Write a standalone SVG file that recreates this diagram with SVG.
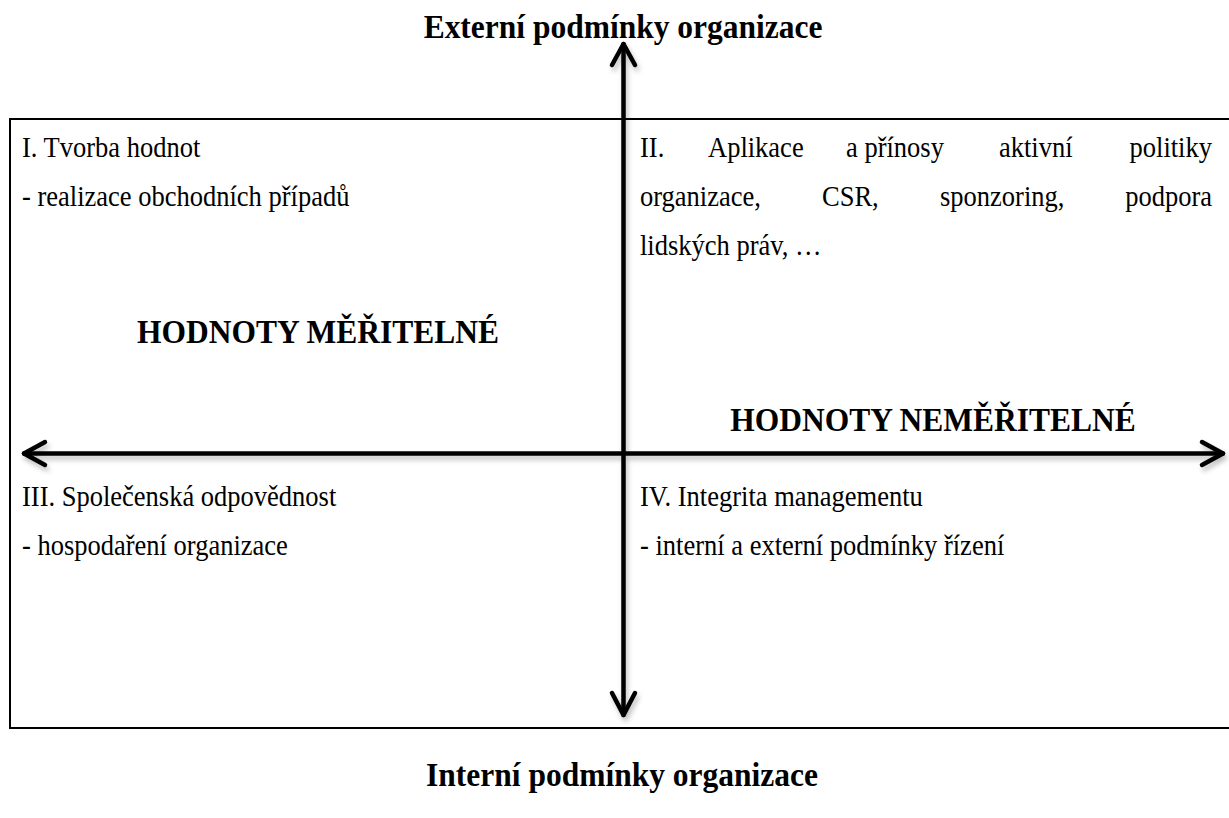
<svg xmlns="http://www.w3.org/2000/svg" width="1229" height="818" viewBox="0 0 1229 818">
<style>
text{font-family:"Liberation Serif","Times New Roman",serif;fill:#000}
.t{font-size:28.5px;font-weight:normal}
.b{font-size:33.5px;font-weight:bold;text-anchor:middle}
.ax{fill:none;stroke:#000;stroke-width:4.5;stroke-linecap:round;stroke-linejoin:round}
</style>
<defs>
<filter id="sh" x="-10%" y="-10%" width="120%" height="130%">
<feDropShadow dx="2" dy="4" stdDeviation="2.5" flood-color="#000" flood-opacity="0.25"/>
</filter>
</defs>
<rect width="1229" height="818" fill="#fff"/>
<g id="frame">
<path d="M1230,119 H10 V728 H1230" fill="none" stroke="#000" stroke-width="2"/>
</g>
<g id="connectors" filter="url(#sh)">
<path class="ax" d="M623.5,44 V715"/>
<path class="ax" d="M612,65 L623.5,44 L635,65"/>
<path class="ax" d="M612,693 L623.5,715 L635,693"/>
<path class="ax" d="M24,453.5 H1223"/>
<path class="ax" d="M45,442 L24,453.5 L45,465"/>
<path class="ax" d="M1202,442 L1223,453.5 L1202,465"/>
</g>
<g id="label-top"><text class="b" transform="matrix(0.94 0 0 1 623 38)">Externí podmínky organizace</text></g>
<g id="label-bottom"><text class="b" transform="matrix(0.94 0 0 1 622 786)">Interní podmínky organizace</text></g>
<g id="q1">
<text class="t" transform="matrix(0.93 0 0 1 22 156.5)">I. Tvorba hodnot</text>
<text class="t" transform="matrix(0.93 0 0 1 22 205.5)">- realizace obchodních případů</text>
<text class="b" transform="matrix(0.94 0 0 1 318 343)">HODNOTY MĚŘITELNÉ</text>
</g>
<g id="q2">
<text class="t" transform="matrix(0.93 0 0 1 0 156.5)"><tspan x="688.17">II.</tspan><tspan x="761.29">Aplikace</tspan><tspan x="909.68">a přínosy</tspan><tspan x="1074.19">aktivní</tspan><tspan x="1303.23" text-anchor="end">politiky</tspan></text>
<text class="t" transform="matrix(0.93 0 0 1 0 205.5)"><tspan x="688.17">organizace,</tspan><tspan x="883.87">CSR,</tspan><tspan x="1010.75">sponzoring,</tspan><tspan x="1303.23" text-anchor="end">podpora</tspan></text>
<text class="t" transform="matrix(0.93 0 0 1 640 254.5)">lidských práv, …</text>
<text class="b" transform="matrix(0.94 0 0 1 933 431)">HODNOTY NEMĚŘITELNÉ</text>
</g>
<g id="q3">
<text class="t" transform="matrix(0.93 0 0 1 22 506)">III. Společenská odpovědnost</text>
<text class="t" transform="matrix(0.93 0 0 1 22 555)">- hospodaření organizace</text>
</g>
<g id="q4">
<text class="t" transform="matrix(0.93 0 0 1 640 506)">IV. Integrita managementu</text>
<text class="t" transform="matrix(0.93 0 0 1 640 555)">- interní a externí podmínky řízení</text>
</g>
</svg>
